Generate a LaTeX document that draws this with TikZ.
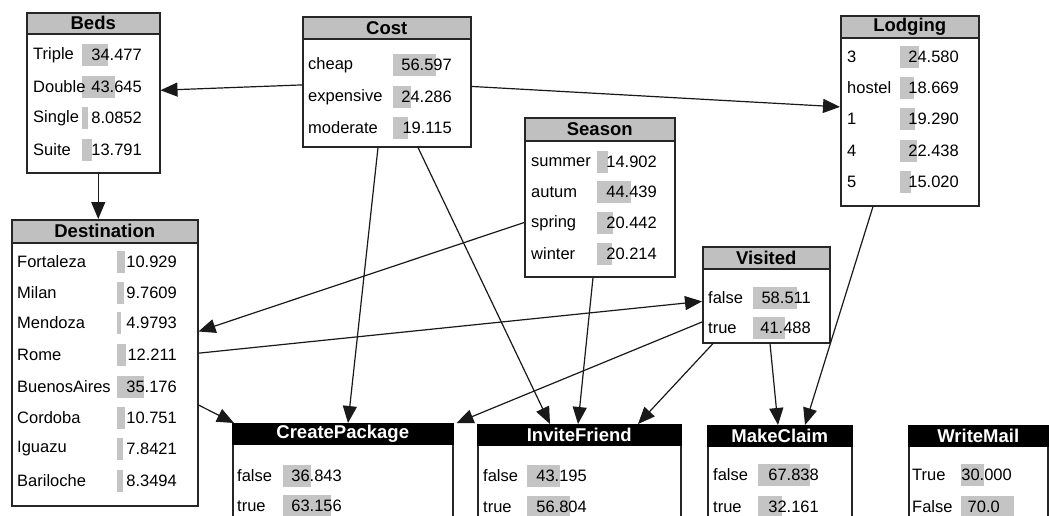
\documentclass[tikz,border=0pt]{standalone}
\usepackage{fontspec}
\setmainfont{Liberation Sans}
\usetikzlibrary{arrows.meta,calc}
\definecolor{hdrgray}{RGB}{192,192,192}
\definecolor{barcol}{RGB}{196,196,196}
\tikzset{
  box/.style={draw=black!85, line width=1.5pt, fill=white, inner sep=0pt, anchor=north west},
  hdrg/.style={draw=black!85, line width=1.5pt, fill=hdrgray, inner sep=0pt, anchor=north west,
     font=\bfseries\fontsize{18.5}{20}\selectfont, text=black},
  hdrb/.style={draw=black, line width=1.5pt, fill=black, inner sep=0pt, anchor=north west,
     font=\bfseries\fontsize{18.5}{20}\selectfont, text=white},
  lbl/.style={inner sep=0pt, anchor=west, font=\fontsize{16.5}{18}\selectfont},
  num/.style={inner sep=0pt, anchor=east, font=\fontsize{16.5}{18}\selectfont},
  link/.style={line width=1.2pt, draw=black!90, -{Triangle[length=17pt,width=14pt]}},
}
% #1 name, #2 label x, #3 bar x, #4 num right x, #5 y, #6 label, #7 value
\newcommand\staterow[7]{%
  \fill[barcol] (#3,#5-11) rectangle ++(0.76*#7,22);
  \node[lbl] (#1l) at (#2,#5) {#6};
  \node[num] (#1v) at (#4,#5) {#7};
}
% #1 name, #2 x1, #3 y1, #4 x2, #5 y2, #6 header bottom, #7 title, #8 header style
\newcommand\netbox[8]{%
  \node[box, minimum width=#4-#2, minimum height=#5-#3] (#1) at (#2,#3) {};
  \node[#8, minimum width=#4-#2, minimum height=#6-#3] (#1T) at (#2,#3) {#7};
}
\begin{document}
\begin{tikzpicture}[x=1pt,y=-1pt]
\clip (0,0) rectangle (1049,515);
\fill[white] (0,0) rectangle (1049,515);

% boxes
\netbox{beds}{26}{12}{159}{172}{33}{Beds}{hdrg}
\netbox{cost}{302}{16}{470}{146}{38}{Cost}{hdrg}
\netbox{lodging}{840}{15}{978}{205}{37}{Lodging}{hdrg}
\netbox{season}{524}{117}{674}{276}{140}{Season}{hdrg}
\netbox{dest}{11}{219}{197}{505}{242}{Destination}{hdrg}
\netbox{visited}{702}{246}{829}{342}{268}{Visited}{hdrg}
\netbox{cp}{232}{423}{452}{545}{443}{CreatePackage}{hdrb}
\netbox{inv}{477}{424}{680}{545}{444}{InviteFriend}{hdrb}
\netbox{mc}{707}{425}{851}{545}{445}{MakeClaim}{hdrb}
\netbox{wm}{908}{425}{1047}{545}{445}{WriteMail}{hdrb}

% rows
\staterow{bedsA}{33}{82}{142}{55}{Triple}{34.477}
\staterow{bedsB}{33}{82}{142}{87}{Double}{43.645}
\staterow{bedsC}{33}{82}{142}{118}{Single}{8.0852}
\staterow{bedsD}{33}{82}{142}{150}{Suite}{13.791}

\staterow{costA}{308}{393}{452}{65}{cheap}{56.597}
\staterow{costB}{308}{393}{452}{97}{expensive}{24.286}
\staterow{costC}{308}{393}{452}{128}{moderate}{19.115}

\staterow{lodA}{847}{900}{959}{57}{3}{24.580}
\staterow{lodB}{847}{900}{959}{88}{hostel}{18.669}
\staterow{lodC}{847}{900}{959}{119}{1}{19.290}
\staterow{lodD}{847}{900}{959}{151}{4}{22.438}
\staterow{lodE}{847}{900}{959}{182}{5}{15.020}

\staterow{seaA}{531}{597}{657}{162}{summer}{14.902}
\staterow{seaB}{531}{597}{657}{192}{autum}{44.439}
\staterow{seaC}{531}{597}{657}{223}{spring}{20.442}
\staterow{seaD}{531}{597}{657}{254}{winter}{20.214}

\staterow{dstA}{17}{117}{177}{262}{Fortaleza}{10.929}
\staterow{dstB}{17}{117}{177}{293}{Milan}{9.7609}
\staterow{dstC}{17}{117}{177}{323}{Mendoza}{4.9793}
\staterow{dstD}{17}{117}{177}{355}{Rome}{12.211}
\staterow{dstE}{17}{117}{177}{387}{BuenosAires}{35.176}
\staterow{dstF}{17}{117}{177}{418}{Cordoba}{10.751}
\staterow{dstG}{17}{117}{177}{449}{Iguazu}{7.8421}
\staterow{dstH}{17}{117}{177}{481}{Bariloche}{8.3494}

\staterow{visA}{708}{753}{811}{298}{false}{58.511}
\staterow{visB}{708}{753}{811}{328}{true}{41.488}

\staterow{cpA}{237}{283}{342}{476}{false}{36.843}
\staterow{cpB}{237}{283}{342}{506}{true}{63.156}

\staterow{invA}{483}{527}{587}{476}{false}{43.195}
\staterow{invB}{483}{527}{587}{507}{true}{56.804}

\staterow{mcA}{713}{758}{819}{475}{false}{67.838}
\staterow{mcB}{713}{758}{819}{507}{true}{32.161}

\staterow{wmA}{912}{961}{1012}{475}{True}{30.000}
\fill[barcol] (961,496) rectangle ++(0.76*70.0,22);
\node[lbl] (wmBl) at (912,507) {False};
\node[num] (wmBv) at (1000,507) {70.0};

% connectors
\coordinate (bedsOut) at ($(beds.south)+(5,0)$);
\coordinate (destIn) at (bedsOut |- dest.north);
\draw[link] (cost) -- (beds);
\draw[link] (cost) -- (lodging);
\draw[link] (bedsOut) -- (destIn);
\draw[link] (season) -- (dest);
\draw[link] (dest) -- (visited);
\draw[link] ($(dest.north east)+(0,186)$) -- ($(cp.north west)+(2,0)$);
\draw[link] ($(cost.south west)+(76,0)$) -- ($(cp.north west)+(116,0)$);
\draw[link] ($(cost.south west)+(116,0)$) -- ($(inv.north west)+(73,0)$);
\draw[link] ($(season.south west)+(69,0)$) -- ($(inv.north west)+(101,0)$);
\draw[link] ($(visited.south west)+(11,0)$) -- ($(inv.north west)+(161,0)$);
\draw[link] ($(visited.north west)+(0,76)$) -- ($(cp.north east)+(3,0)$);
\draw[link] ($(visited.south west)+(68,0)$) -- ($(mc.north west)+(71,0)$);
\draw[link] ($(lodging.south west)+(33,0)$) -- ($(mc.north west)+(98,0)$);
\end{tikzpicture}
\end{document}
